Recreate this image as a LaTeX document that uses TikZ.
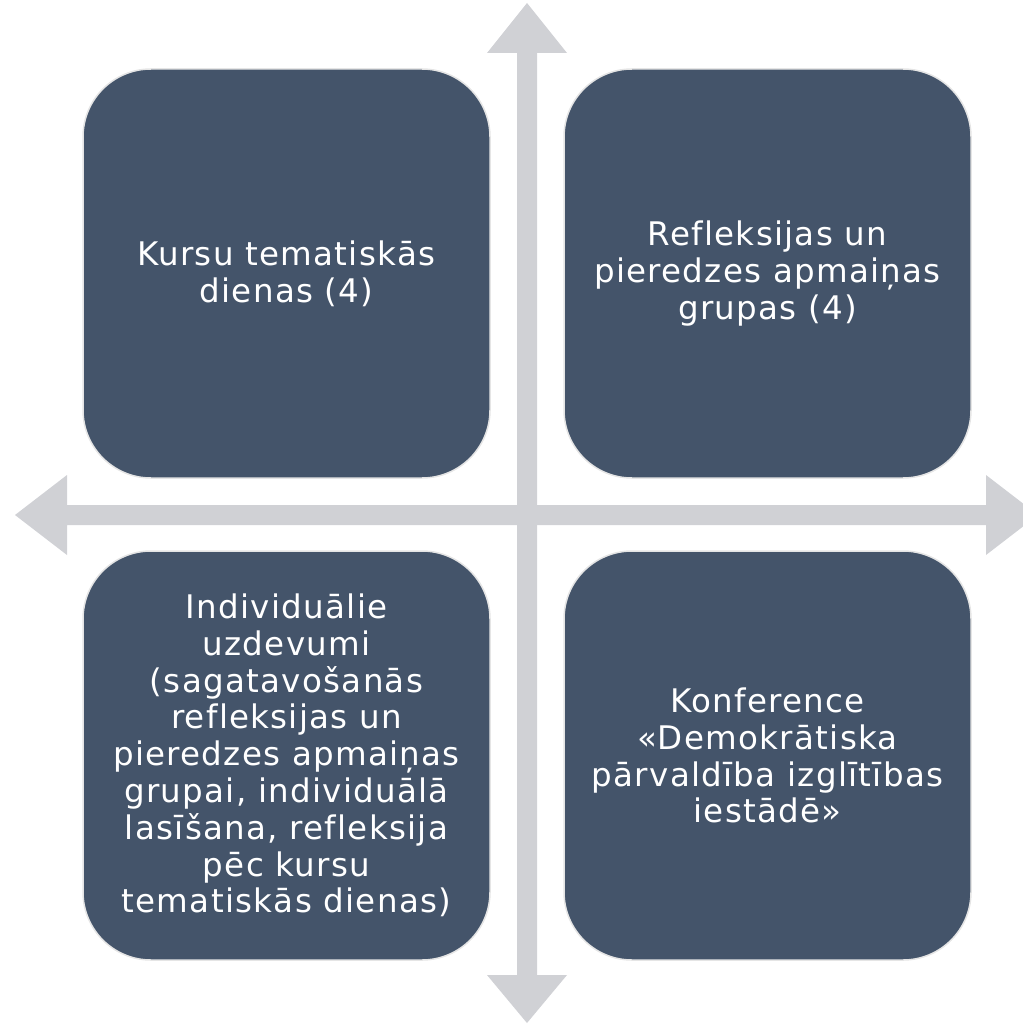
\documentclass[tikz,border=0pt]{standalone}
\usepackage{fontspec}
\setmainfont{DejaVu Sans}[LetterSpace=4, Ligatures=NoCommon]
\definecolor{boxblue}{HTML}{44546A}
\definecolor{arrowgray}{HTML}{D0D1D5}
\tikzset{
  quad/.style={fill=boxblue, draw=gray!20, line width=1.5pt, rounded corners=68pt,
    minimum width=407pt, minimum height=409pt, inner sep=0pt},
  quadtext/.style={text=white, align=center, font=\fontsize{32.5}{36.8}\selectfont}
}
\begin{document}
\begin{tikzpicture}[x=1pt,y=-1pt]
  \useasboundingbox (0,0) rectangle (1022,1024);

  %vertical arrow
  \fill[arrowgray] (517,53) -- (487,53) -- (527,3) -- (567,53) -- (537,53) -- (537,975)
        -- (567,975) -- (527,1023) -- (487,975) -- (517,975) -- cycle;
  %horizontal arrow
  \fill[arrowgray] (67,505) -- (67,475) -- (15,515) -- (67,555) -- (67,525) -- (986,525)
        -- (986,555) -- (1038,515) -- (986,475) -- (986,505) -- cycle;

  %quadrants
  \node[quad, quadtext] (kursi) at (286.5,273.5) {Kursu tematiskās\\dienas (4)};
  \node[quad, quadtext] (refleksija) at (767.5,273.5) {Refleksijas un\\pieredzes apmaiņas\\grupas (4)};
  \node[quad, quadtext] (individuali) at (286.5,755.5) {Individuālie\\uzdevumi\\(sagatavošanās\\refleksijas un\\pieredzes apmaiņas\\grupai, individuālā\\lasīšana, refleksija\\pēc kursu\\tematiskās dienas)};
  \node[quad, quadtext] (konference) at (767.5,755.5) {Konference\\«Demokrātiska\\pārvaldība izglītības\\iestādē»};

\end{tikzpicture}
\end{document}
